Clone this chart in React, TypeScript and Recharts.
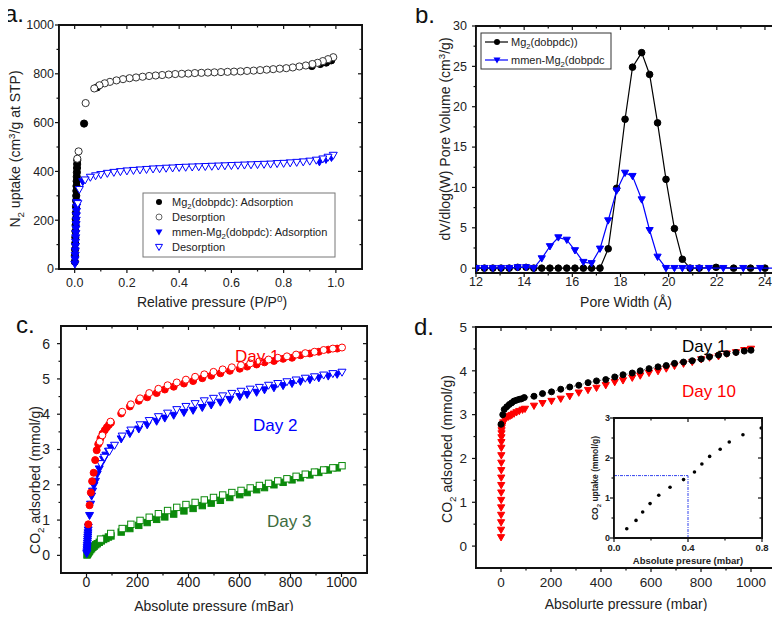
import React from 'react';
import { ScatterChart, Scatter, XAxis, YAxis, ReferenceLine } from 'recharts';

const FONT = 'Arial, "Liberation Sans", Helvetica, sans-serif';
const BLUE = '#0000ff';
const RED = '#ff0000';
const GREEN = '#0b8a0b';
const W = 780;
const H = 619;

// a. N2 isotherms
const aXTicks = [0, 0.2, 0.4, 0.6, 0.8, 1.0];
const aXAll = [0, 0.1, 0.2, 0.3, 0.4, 0.5, 0.6, 0.7, 0.8, 0.9, 1.0];
const aYTicks = [0, 200, 400, 600, 800, 1000];
const aYAll = [0, 100, 200, 300, 400, 500, 600, 700, 800, 900, 1000];
const mgAdsX = [0.0005, 0.001, 0.0015, 0.002, 0.0025, 0.003, 0.0035, 0.004, 0.0045, 0.005, 0.0055, 0.006, 0.0065, 0.007, 0.0075, 0.008, 0.0085, 0.009, 0.0095, 0.01, 0.036, 0.085, 0.908, 0.94, 0.963, 0.982];
const mgAdsY = [30, 55, 80, 105, 130, 155, 180, 205, 230, 255, 280, 300, 320, 340, 360, 378, 396, 414, 430, 446, 596, 744, 832, 840, 846, 855];
const mgDesX = [0.99, 0.97, 0.95, 0.93, 0.91, 0.885, 0.86, 0.835, 0.81, 0.785, 0.76, 0.735, 0.71, 0.685, 0.66, 0.635, 0.61, 0.585, 0.56, 0.535, 0.51, 0.485, 0.46, 0.435, 0.41, 0.385, 0.36, 0.335, 0.31, 0.285, 0.26, 0.235, 0.21, 0.185, 0.16, 0.135, 0.115, 0.095, 0.075, 0.042, 0.015, 0.01];
const mgDesY = [868, 860, 852, 845, 840, 834, 830, 826, 823, 821, 819, 817, 815, 813, 812, 810, 809, 808, 807, 806, 805, 804, 803, 801, 800, 799, 797, 795, 793, 791, 788, 785, 782, 778, 773, 767, 761, 753, 740, 680, 482, 452];
const mmenAdsX = [0.001, 0.0015, 0.002, 0.0025, 0.003, 0.0035, 0.004, 0.0045, 0.005, 0.0055, 0.006, 0.0065, 0.007, 0.0075, 0.008, 0.031, 0.937, 0.962, 0.983];
const mmenAdsY = [20, 38, 56, 74, 92, 110, 128, 146, 164, 182, 200, 218, 236, 254, 272, 358, 439, 449, 457];
const mmenDesX = [0.99, 0.97, 0.95, 0.925, 0.9, 0.875, 0.85, 0.825, 0.8, 0.775, 0.75, 0.725, 0.7, 0.675, 0.65, 0.625, 0.6, 0.575, 0.55, 0.525, 0.5, 0.475, 0.45, 0.425, 0.4, 0.375, 0.35, 0.325, 0.3, 0.275, 0.25, 0.225, 0.2, 0.175, 0.15, 0.125, 0.1, 0.08, 0.06, 0.04, 0.018, 0.012];
const mmenDesY = [466, 458, 451, 446, 442, 439, 437, 435, 433, 432, 430, 429, 428, 427, 426, 425, 424, 423, 422, 421, 420, 419, 418, 417, 416, 414, 413, 411, 410, 408, 406, 404, 402, 399, 396, 392, 387, 382, 376, 365, 326, 268];

// b. pore size distribution
const bXTicks = [12, 14, 16, 18, 20, 22, 24];
const bXAll = [12, 13, 14, 15, 16, 17, 18, 19, 20, 21, 22, 23, 24];
const bYTicks = [0, 5, 10, 15, 20, 25, 30];
const bYAll = [0, 2.5, 5, 7.5, 10, 12.5, 15, 17.5, 20, 22.5, 25, 27.5, 30];
const poreMgX = [12.0, 12.35, 12.7, 13.04, 13.38, 13.73, 14.08, 14.4, 14.73, 15.07, 15.42, 15.77, 16.11, 16.46, 16.8, 17.15, 17.49, 17.84, 18.19, 18.5, 18.88, 19.21, 19.54, 19.89, 20.24, 20.57, 20.89, 21.27, 21.97, 22.7, 23.4, 24.0];
const poreMgY = [0, 0, 0, 0, 0, 0.1, 0.1, 0, 0, 0, 0, 0, 0, 0, 0, 0, 2.4, 9.9, 18.45, 24.9, 26.7, 24.0, 18.0, 11.0, 4.9, 1.1, 0, 0, 0.1, 0, 0, 0];
const poreMmenX = [12.0, 12.35, 12.7, 13.04, 13.38, 13.73, 14.08, 14.4, 14.73, 15.07, 15.42, 15.77, 16.11, 16.46, 16.8, 17.15, 17.49, 17.84, 18.19, 18.5, 18.88, 19.21, 19.54, 19.89, 20.24, 20.57, 20.89, 21.27, 21.67, 22.27, 23.1, 23.8, 24.5];
const poreMmenY = [0, 0, 0, 0, 0, 0.1, 0.1, 0, 1.2, 2.7, 3.8, 3.5, 2.2, 0.75, 0.6, 2.4, 5.9, 9.6, 11.8, 11.4, 8.5, 4.7, 1.4, 0, 0, 0, 0, 0, 0, 0, 0, 0, 0];

// c. CO2 isotherms, day 1 / 2 / 3
const cXTicks = [0, 200, 400, 600, 800, 1000];
const cXAll = [0, 100, 200, 300, 400, 500, 600, 700, 800, 900, 1000];
const cYTicks = [0, 1, 2, 3, 4, 5, 6];
const cYAll = [0, 0.5, 1, 1.5, 2, 2.5, 3, 3.5, 4, 4.5, 5, 5.5, 6];
const day1AdsX = [7, 12, 17, 22, 28, 34, 40, 46, 55, 63, 72, 80, 88, 96, 136, 170, 205, 238, 275, 307, 342, 382, 418, 454, 489, 525, 562, 601, 630, 667, 698, 735, 771, 806, 839, 876, 911, 948, 983];
const day1AdsY = [0.88, 1.42, 1.78, 2.1, 2.34, 2.7, 2.98, 3.15, 3.32, 3.45, 3.55, 3.63, 3.7, 3.76, 4.02, 4.22, 4.38, 4.48, 4.6, 4.7, 4.78, 4.87, 4.94, 5.02, 5.09, 5.16, 5.23, 5.29, 5.35, 5.41, 5.47, 5.51, 5.57, 5.6, 5.67, 5.72, 5.77, 5.83, 5.86];
const day1DesX = [1002, 966, 930, 894, 858, 822, 786, 750, 714, 678, 642, 606, 570, 534, 498, 462, 426, 390, 354, 318, 282, 246, 210, 174, 140, 94, 62, 52];
const day1DesY = [5.89, 5.86, 5.82, 5.77, 5.73, 5.69, 5.64, 5.6, 5.55, 5.5, 5.44, 5.39, 5.33, 5.27, 5.2, 5.13, 5.06, 4.98, 4.9, 4.82, 4.72, 4.6, 4.45, 4.28, 4.07, 3.79, 3.4, 3.22];
const day2AdsX = [1, 1.5, 2, 2.5, 3, 3.5, 4, 4.5, 5, 5.5, 6, 6.5, 7, 12, 16, 20, 24, 29, 35, 42, 50, 58, 67, 76, 86, 96, 136, 170, 205, 238, 275, 307, 342, 382, 418, 454, 489, 525, 562, 601, 630, 667, 698, 735, 771, 806, 839, 876, 911, 948, 983];
const day2AdsY = [0.05, 0.1, 0.16, 0.22, 0.28, 0.34, 0.4, 0.46, 0.52, 0.58, 0.64, 0.72, 0.8, 1.13, 1.45, 1.68, 1.82, 1.98, 2.1, 2.3, 2.45, 2.6, 2.72, 2.84, 2.95, 3.05, 3.3, 3.45, 3.58, 3.7, 3.8, 3.89, 3.97, 4.05, 4.11, 4.19, 4.26, 4.34, 4.42, 4.5, 4.56, 4.62, 4.69, 4.75, 4.81, 4.87, 4.93, 4.98, 5.03, 5.08, 5.13];
const day2DesX = [1002, 966, 930, 894, 858, 822, 786, 750, 714, 678, 642, 606, 570, 534, 498, 462, 426, 390, 354, 318, 282, 246, 210, 174, 140, 110, 90, 70, 55];
const day2DesY = [5.19, 5.15, 5.11, 5.06, 5.02, 4.97, 4.92, 4.87, 4.82, 4.76, 4.71, 4.65, 4.59, 4.52, 4.45, 4.38, 4.3, 4.22, 4.13, 4.03, 3.93, 3.82, 3.7, 3.55, 3.38, 3.12, 2.95, 2.78, 2.6];
const day3AdsX = [2, 4, 6, 9, 12, 16, 20, 25, 30, 36, 42, 50, 58, 67, 76, 86, 96, 136, 170, 205, 238, 275, 307, 342, 382, 418, 454, 489, 525, 562, 601, 630, 667, 698, 735, 771, 806, 839, 876, 911, 948, 983];
const day3AdsY = [0.01, 0.03, 0.06, 0.09, 0.12, 0.16, 0.19, 0.23, 0.26, 0.3, 0.33, 0.37, 0.41, 0.45, 0.48, 0.52, 0.55, 0.66, 0.76, 0.85, 0.93, 1.02, 1.09, 1.17, 1.26, 1.33, 1.41, 1.48, 1.56, 1.64, 1.72, 1.78, 1.86, 1.92, 2.0, 2.07, 2.14, 2.2, 2.28, 2.35, 2.42, 2.48];
const day3DesX = [1002, 966, 930, 894, 858, 822, 786, 750, 714, 678, 642, 606, 570, 534, 498, 462, 426, 390, 354, 318, 282, 246, 210, 174, 140, 95, 55];
const day3DesY = [2.54, 2.48, 2.42, 2.36, 2.3, 2.24, 2.17, 2.11, 2.04, 1.98, 1.91, 1.84, 1.78, 1.71, 1.64, 1.57, 1.5, 1.44, 1.36, 1.27, 1.18, 1.08, 0.99, 0.88, 0.76, 0.62, 0.46];

// d. CO2 isotherms, day 1 vs day 10
const dXTicks = [0, 200, 400, 600, 800, 1000];
const dXAll = [0, 100, 200, 300, 400, 500, 600, 700, 800, 900, 1000];
const dYTicks = [0, 1, 2, 3, 4, 5];
const dYAll = [0, 0.5, 1, 1.5, 2, 2.5, 3, 3.5, 4, 4.5, 5];
const dDay1X = [0, 7, 13, 23, 33, 43, 52, 62, 73, 82, 93, 132, 166, 202, 239, 275, 311, 348, 382, 419, 455, 488, 525, 557, 592, 628, 661, 694, 730, 765, 801, 834, 870, 903, 940, 973, 1000];
const dDay1Y = [2.78, 3.0, 3.12, 3.18, 3.23, 3.27, 3.31, 3.33, 3.35, 3.36, 3.39, 3.42, 3.48, 3.52, 3.58, 3.63, 3.67, 3.73, 3.77, 3.8, 3.86, 3.91, 3.95, 4.0, 4.05, 4.09, 4.12, 4.17, 4.2, 4.23, 4.27, 4.32, 4.36, 4.39, 4.42, 4.45, 4.47];
const dDay10X = [0.2, 0.3, 0.4, 0.5, 0.6, 0.7, 0.8, 0.9, 1.0, 1.1, 1.2, 1.3, 1.4, 1.6, 1.8, 2.0, 2.3, 2.6, 5, 9, 16, 22, 29, 36, 43, 52, 62, 73, 86, 96, 132, 166, 202, 239, 275, 311, 348, 382, 419, 455, 488, 525, 557, 592, 628, 661, 694, 730, 765, 801, 834, 870, 903, 940, 973, 1000];
const dDay10Y = [0.2, 0.37, 0.54, 0.71, 0.88, 1.05, 1.22, 1.39, 1.56, 1.73, 1.9, 2.07, 2.24, 2.37, 2.48, 2.57, 2.64, 2.7, 2.75, 2.82, 2.89, 2.93, 2.95, 2.97, 2.99, 3.02, 3.05, 3.08, 3.11, 3.13, 3.2, 3.26, 3.31, 3.36, 3.42, 3.5, 3.56, 3.61, 3.67, 3.74, 3.78, 3.84, 3.89, 3.95, 3.99, 4.05, 4.11, 4.16, 4.2, 4.26, 4.3, 4.33, 4.39, 4.42, 4.47, 4.5];

// d inset: low pressure uptake
const inXTicks = [0, 0.4, 0.8];
const inXAll = [0, 0.2, 0.4, 0.6, 0.8];
const inYTicks = [0, 1, 2, 3];
const inYAll = [0, 0.5, 1, 1.5, 2, 2.5, 3];
const insetX = [0.069, 0.119, 0.155, 0.195, 0.242, 0.303, 0.376, 0.435, 0.475, 0.517, 0.574, 0.623, 0.697, 0.796];
const insetY = [0.23, 0.44, 0.65, 0.86, 1.07, 1.27, 1.46, 1.65, 1.85, 2.04, 2.22, 2.4, 2.58, 2.75];
const guideX = 0.4;
const guideY = 1.56;

// plot rectangles of the panels (left, top, right, bottom)
type Box = { l: number; t: number; r: number; b: number };
const boxA: Box = { l: 59, t: 25, r: 362, b: 269 };
const boxB: Box = { l: 476, t: 26, r: 777, b: 273 };
const boxC: Box = { l: 61, t: 326, r: 367, b: 573 };
const boxD: Box = { l: 476, t: 327, r: 776, b: 568 };
const boxIn: Box = { l: 614, t: 418, r: 762, b: 538 };

const pts = (xs: number[], ys: number[]) => xs.map((x, i) => ({ x, y: ys[i] }));

const circle = (r: number, fill: string, stroke: string, sw = 1) => (p: any) => (
  <circle cx={p.cx} cy={p.cy} r={r} fill={fill} stroke={stroke} strokeWidth={sw} />
);
const triDown = (s: number, fill: string, stroke: string, sw = 1) => (p: any) => (
  <path
    d={`M${p.cx - s},${p.cy - s * 0.75}L${p.cx + s},${p.cy - s * 0.75}L${p.cx},${p.cy + s}Z`}
    fill={fill}
    stroke={stroke}
    strokeWidth={sw}
  />
);
const square = (s: number, fill: string, stroke: string, sw = 1) => (p: any) => (
  <rect x={p.cx - s} y={p.cy - s} width={2 * s} height={2 * s} fill={fill} stroke={stroke} strokeWidth={sw} />
);

const LW = 1.8;
const axLine = { stroke: '#111', strokeWidth: LW };
const abs: React.CSSProperties = { position: 'absolute', left: 0, top: 0 };

// ticks: major ones get a label, minor ones only a short mark
function makeTick(side: 'b' | 'l' | 't' | 'r', majors: number[], size = 12, gap = 4, fmt?: (v: number) => string, bold = false) {
  return (p: any) => {
    const v = p.payload.value;
    const major = majors.some((m) => Math.abs(m - v) < 1e-6);
    const len = major ? 4 : 2.5;
    const { x, y } = p;
    const label = fmt ? fmt(v) : String(v);
    if (side === 'b') {
      return (
        <g>
          <line x1={x} y1={y} x2={x} y2={y + len} stroke="#111" strokeWidth={1.2} />
          {major && (
            <text x={x} y={y + gap} dy="0.71em" textAnchor="middle" fontSize={size} fontWeight={bold ? 'bold' : 'normal'} fill="#222">
              {label}
            </text>
          )}
        </g>
      );
    }
    if (side === 'l') {
      return (
        <g>
          <line x1={x - len} y1={y} x2={x} y2={y} stroke="#111" strokeWidth={1.2} />
          {major && (
            <text x={x - gap} y={y} dy="0.35em" textAnchor="end" fontSize={size} fontWeight={bold ? 'bold' : 'normal'} fill="#222">
              {label}
            </text>
          )}
        </g>
      );
    }
    if (side === 't') return <line x1={x} y1={y} x2={x} y2={y + len} stroke="#111" strokeWidth={1.2} />;
    return <line x1={x - len} y1={y} x2={x} y2={y} stroke="#111" strokeWidth={1.2} />;
  };
}

// top / right axes of a panel (inward ticks), as a separate chart on the same plot box
function FrameTicks({ box, xd, yd, xAll, yAll, xMaj, yMaj }: { box: Box; xd: number[]; yd: number[]; xAll: number[]; yAll: number[]; xMaj: number[]; yMaj: number[] }) {
  return (
    <div style={abs}>
      <ScatterChart width={W} height={H} margin={{ top: box.t - 1, right: W - box.r - 1, bottom: H - box.b, left: box.l }}>
        <XAxis dataKey="x" type="number" orientation="top" domain={xd} ticks={xAll} interval={0} allowDataOverflow height={1} tick={makeTick('t', xMaj)} tickSize={0} tickMargin={0} tickLine={false} axisLine={axLine} />
        <YAxis dataKey="y" type="number" orientation="right" domain={yd} ticks={yAll} interval={0} allowDataOverflow width={1} tick={makeTick('r', yMaj)} tickSize={0} tickMargin={0} tickLine={false} axisLine={axLine} />
        <Scatter data={[]} isAnimationActive={false} />
      </ScatterChart>
    </div>
  );
}

// plain frame border of a panel
function FrameBorder({ box, lw = LW }: { box: Box; lw?: number }) {
  return (
    <div
      style={{
        position: 'absolute',
        left: box.l - lw / 2,
        top: box.t - lw / 2,
        width: box.r - box.l + lw,
        height: box.b - box.t + lw,
        border: `${lw}px solid #111`,
        boxSizing: 'border-box',
        pointerEvents: 'none',
      }}
    />
  );
}

// rich text helper: [text, 0 normal | 1 sub | -1 sup]
function rich(parts: [string, number][], size: number) {
  let cur = 0;
  return parts.map(([t, k], i) => {
    const off = k === 1 ? size * 0.3 : k === -1 ? -size * 0.38 : 0;
    const dy = off - cur;
    cur = off;
    return (
      <tspan key={i} dy={dy} fontSize={k === 0 ? size : size * 0.7}>
        {t}
      </tspan>
    );
  });
}

function VText({ x, y, size, parts, weight = 'normal' }: { x: number; y: number; size: number; parts: [string, number][]; weight?: string }) {
  return (
    <text x={x} y={y} transform={`rotate(-90, ${x}, ${y})`} textAnchor="middle" fontSize={size} fontWeight={weight} fill="#222">
      {rich(parts, size)}
    </text>
  );
}

function HText({ x, y, size, parts, anchor = 'middle', fill = '#222', weight = 'normal' }: { x: number; y: number; size: number; parts: [string, number][]; anchor?: string; fill?: string; weight?: string }) {
  return (
    <text x={x} y={y} textAnchor={anchor as any} fontSize={size} fill={fill} fontWeight={weight}>
      {rich(parts, size)}
    </text>
  );
}

const legTri = (cx: number, cy: number, s: number) => `M${cx - s},${cy - s * 0.75}L${cx + s},${cy - s * 0.75}L${cx},${cy + s}Z`;
const fmt1 = (v: number) => v.toFixed(1);
const margin = (b: Box, yw: number, xh: number) => ({ top: b.t, right: W - b.r, bottom: H - b.b - xh, left: b.l - yw });

export default function App() {
  return (
    <div style={{ position: 'relative', width: W, height: H, margin: -8, background: '#fff', fontFamily: FONT, overflow: 'hidden' }}>
      {/* a */}
      <div style={abs}>
        <ScatterChart width={W} height={H} margin={margin(boxA, 40, 25)}>
          <XAxis dataKey="x" type="number" domain={[-0.06, 1.1]} ticks={aXAll} interval={0} allowDataOverflow height={25} tick={makeTick('b', aXTicks, 12.5, 9, fmt1)} tickSize={0} tickMargin={0} tickLine={false} axisLine={axLine} />
          <YAxis dataKey="y" type="number" domain={[0, 1000]} ticks={aYAll} interval={0} allowDataOverflow width={40} tick={makeTick('l', aYTicks, 12.5, 5)} tickSize={0} tickMargin={0} tickLine={false} axisLine={axLine} />
          <Scatter data={pts(mgAdsX, mgAdsY)} shape={circle(3.6, '#000', '#000')} isAnimationActive={false} />
          <Scatter data={pts(mgDesX, mgDesY)} shape={circle(3.6, '#fff', '#333')} isAnimationActive={false} />
          <Scatter data={pts(mmenAdsX, mmenAdsY)} shape={triDown(4, BLUE, BLUE)} isAnimationActive={false} />
          <Scatter data={pts(mmenDesX, mmenDesY)} shape={triDown(4, '#fff', BLUE)} isAnimationActive={false} />
        </ScatterChart>
      </div>
      <FrameTicks box={boxA} xd={[-0.06, 1.1]} yd={[0, 1000]} xAll={aXAll} yAll={aYAll} xMaj={aXTicks} yMaj={aYTicks} />

      {/* b */}
      <div style={abs}>
        <ScatterChart width={W} height={H} margin={margin(boxB, 40, 25)}>
          <XAxis dataKey="x" type="number" domain={[12, 24.5]} ticks={bXAll} interval={0} allowDataOverflow height={25} tick={makeTick('b', bXTicks, 12.5, 4)} tickSize={0} tickMargin={0} tickLine={false} axisLine={axLine} />
          <YAxis dataKey="y" type="number" domain={[-0.6, 30]} ticks={bYAll} interval={0} allowDataOverflow width={40} tick={makeTick('l', bYTicks, 12.5, 9)} tickSize={0} tickMargin={0} tickLine={false} axisLine={axLine} />
          <Scatter data={pts(poreMgX, poreMgY)} line={{ stroke: '#000', strokeWidth: 1.2 }} shape={circle(3.3, '#000', '#000')} isAnimationActive={false} />
          <Scatter data={pts(poreMmenX, poreMmenY)} line={{ stroke: BLUE, strokeWidth: 1.2 }} shape={triDown(3.6, BLUE, BLUE)} isAnimationActive={false} />
        </ScatterChart>
      </div>
      <FrameTicks box={boxB} xd={[12, 24.5]} yd={[-0.6, 30]} xAll={bXAll} yAll={bYAll} xMaj={bXTicks} yMaj={bYTicks} />

      {/* c */}
      <div style={abs}>
        <ScatterChart width={W} height={H} margin={margin(boxC, 40, 25)}>
          <XAxis dataKey="x" type="number" domain={[-100, 1100]} ticks={cXAll} interval={0} allowDataOverflow height={25} tick={makeTick('b', cXTicks, 14, 4)} tickSize={0} tickMargin={0} tickLine={false} axisLine={axLine} />
          <YAxis dataKey="y" type="number" domain={[-0.5, 6.5]} ticks={cYAll} interval={0} allowDataOverflow width={40} tick={makeTick('l', cYTicks, 14, 11)} tickSize={0} tickMargin={0} tickLine={false} axisLine={axLine} />
          <Scatter data={pts(day3AdsX, day3AdsY)} shape={square(3.2, GREEN, GREEN)} isAnimationActive={false} />
          <Scatter data={pts(day3DesX, day3DesY)} shape={square(3.2, '#fff', GREEN)} isAnimationActive={false} />
          <Scatter data={pts(day2AdsX, day2AdsY)} shape={triDown(4, BLUE, BLUE)} isAnimationActive={false} />
          <Scatter data={pts(day2DesX, day2DesY)} shape={triDown(4, '#fff', BLUE)} isAnimationActive={false} />
          <Scatter data={pts(day1AdsX, day1AdsY)} shape={circle(3.5, RED, RED)} isAnimationActive={false} />
          <Scatter data={pts(day1DesX, day1DesY)} shape={circle(3.5, '#fff', RED)} isAnimationActive={false} />
        </ScatterChart>
      </div>
      <FrameTicks box={boxC} xd={[-100, 1100]} yd={[-0.5, 6.5]} xAll={cXAll} yAll={cYAll} xMaj={cXTicks} yMaj={cYTicks} />

      {/* d */}
      <div style={abs}>
        <ScatterChart width={W} height={H} margin={margin(boxD, 40, 25)}>
          <XAxis dataKey="x" type="number" domain={[-100, 1100]} ticks={dXAll} interval={0} allowDataOverflow height={25} tick={makeTick('b', dXTicks, 13.5, 9)} tickSize={0} tickMargin={0} tickLine={false} axisLine={axLine} />
          <YAxis dataKey="y" type="number" domain={[-0.5, 5]} ticks={dYAll} interval={0} allowDataOverflow width={40} tick={makeTick('l', dYTicks, 13.5, 9)} tickSize={0} tickMargin={0} tickLine={false} axisLine={axLine} />
          <Scatter data={pts(dDay10X, dDay10Y)} shape={triDown(3.6, RED, RED)} isAnimationActive={false} />
          <Scatter data={pts(dDay1X, dDay1Y)} line={{ stroke: '#333', strokeWidth: 1, strokeDasharray: '1 2' }} shape={circle(3, '#000', '#000')} isAnimationActive={false} />
        </ScatterChart>
      </div>
      <FrameTicks box={boxD} xd={[-100, 1100]} yd={[-0.5, 5]} xAll={dXAll} yAll={dYAll} xMaj={dXTicks} yMaj={dYTicks} />

      {/* d inset */}
      <div style={{ position: 'absolute', left: boxIn.l, top: boxIn.t, width: boxIn.r - boxIn.l, height: boxIn.b - boxIn.t, background: '#fff' }} />
      <div style={abs}>
        <ScatterChart width={W} height={H} margin={margin(boxIn, 25, 20)}>
          <XAxis dataKey="x" type="number" domain={[0, 0.8]} ticks={inXAll} interval={0} allowDataOverflow height={20} tick={makeTick('b', inXTicks, 9.5, 6, fmt1, true)} tickSize={0} tickMargin={0} tickLine={false} axisLine={axLine} />
          <YAxis dataKey="y" type="number" domain={[0, 3]} ticks={inYAll} interval={0} allowDataOverflow width={25} tick={makeTick('l', inYTicks, 9, 4, undefined, true)} tickSize={0} tickMargin={0} tickLine={false} axisLine={axLine} />
          <ReferenceLine segment={[{ x: 0, y: guideY }, { x: guideX, y: guideY }]} stroke="#3344ee" strokeDasharray="3 1 1 1" strokeWidth={1} />
          <ReferenceLine segment={[{ x: guideX, y: 0 }, { x: guideX, y: guideY }]} stroke="#3344ee" strokeDasharray="3 1 1 1" strokeWidth={1} />
          <Scatter data={pts(insetX, insetY)} shape={circle(1.8, '#000', '#000', 0)} isAnimationActive={false} />
        </ScatterChart>
      </div>
      <FrameTicks box={boxIn} xd={[0, 0.8]} yd={[0, 3]} xAll={inXAll} yAll={inYAll} xMaj={inXTicks} yMaj={inYTicks} />

      <FrameBorder box={boxA} />
      <FrameBorder box={boxB} />
      <FrameBorder box={boxC} />
      <FrameBorder box={boxD} />
      <FrameBorder box={boxIn} />

      {/* titles, labels, legends */}
      <svg width={W} height={H} style={{ ...abs, pointerEvents: 'none' }} fontFamily={FONT}>
        <text x={4} y={22} fontSize={24} fill="#111">a.</text>
        <text x={415} y={23} fontSize={24} fill="#111">b.</text>
        <text x={16} y={333} fontSize={24} fill="#111">c.</text>
        <text x={414} y={335} fontSize={24} fill="#111">d.</text>

        <VText x={20} y={149} size={14} parts={[['N', 0], ['2', 1], [' uptake (cm', 0], ['3', -1], ['/g at STP)', 0]]} />
        <HText x={212} y={307} size={14} parts={[['Relative pressure (P/P', 0], ['0', -1], [')', 0]]} />
        <VText x={450} y={139} size={14} parts={[['dV/dlog(W) Pore Volume (cm', 0], ['3', -1], ['/g)', 0]]} />
        <HText x={626} y={307} size={14} parts={[['Pore Width (Å)', 0]]} />
        <VText x={40} y={480} size={14} parts={[['CO', 0], ['2', 1], [' adsorbed (mmol/g)', 0]]} />
        <HText x={214} y={611} size={14} parts={[['Absolute pressure (mBar)', 0]]} />
        <VText x={452} y={449} size={14} parts={[['CO', 0], ['2', 1], [' adsorbed (mmol/g)', 0]]} />
        <HText x={626} y={609} size={14} parts={[['Absolurte pressure (mbar)', 0]]} />
        <VText x={598} y={478} size={8.5} weight="bold" parts={[['CO', 0], ['2', 1], [' uptake (mmol/g)', 0]]} />
        <HText x={688} y={564} size={9.5} weight="bold" parts={[['Absolute presure (mbar)', 0]]} />

        <HText x={235} y={362} size={17} anchor="start" fill={RED} parts={[['Day 1', 0]]} />
        <HText x={253} y={431} size={17} anchor="start" fill={BLUE} parts={[['Day 2', 0]]} />
        <HText x={267} y={527} size={17} anchor="start" fill="#3d6b3d" parts={[['Day 3', 0]]} />
        <HText x={682} y={352} size={17} anchor="start" fill="#000" parts={[['Day 1', 0]]} />
        <HText x={682} y={397} size={17} anchor="start" fill={RED} parts={[['Day 10', 0]]} />

        {/* legend a */}
        <rect x={143} y={193} width={192} height={64} fill="#fff" stroke="#777" strokeWidth={1} />
        <circle cx={159} cy={202} r={3} fill="#000" />
        <circle cx={159} cy={217} r={3} fill="#fff" stroke="#666" />
        <path d={legTri(159, 232, 3.5)} fill={BLUE} />
        <path d={legTri(159, 247, 3.5)} fill="#fff" stroke={BLUE} />
        <HText x={172} y={206} size={11} anchor="start" parts={[['Mg', 0], ['2', 1], ['(dobpdc): Adsorption', 0]]} />
        <HText x={172} y={221} size={11} anchor="start" parts={[['Desorption', 0]]} />
        <HText x={172} y={236} size={11} anchor="start" parts={[['mmen-Mg', 0], ['2', 1], ['(dobpdc): Adsorption', 0]]} />
        <HText x={172} y={251} size={11} anchor="start" parts={[['Desorption', 0]]} />

        {/* legend b */}
        <rect x={481} y={33} width={130} height={36} fill="#fff" stroke="#333" strokeWidth={1} />
        <line x1={485} y1={42} x2={508} y2={42} stroke="#000" strokeWidth={1.2} />
        <circle cx={497} cy={42} r={3} fill="#000" />
        <line x1={485} y1={60} x2={508} y2={60} stroke={BLUE} strokeWidth={1.2} />
        <path d={legTri(497, 60, 3.5)} fill={BLUE} />
        <HText x={511} y={46} size={11} anchor="start" parts={[['Mg', 0], ['2', 1], ['(dobpdc))', 0]]} />
        <HText x={511} y={64} size={11} anchor="start" parts={[['mmen-Mg', 0], ['2', 1], ['(dobpdc', 0]]} />
      </svg>
    </div>
  );
}
